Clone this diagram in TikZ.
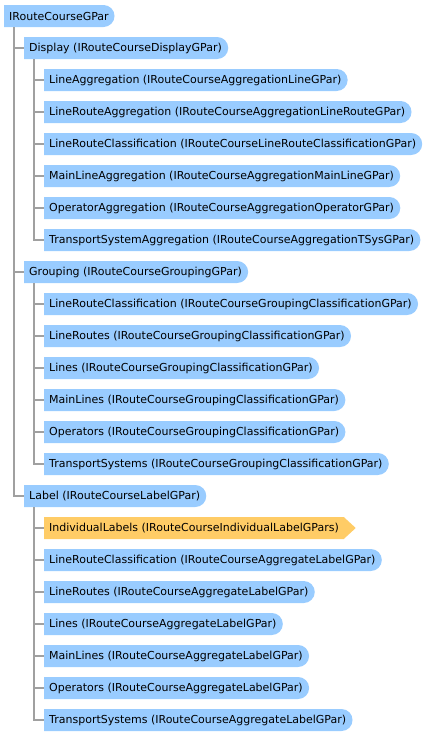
\documentclass[tikz,border=0pt]{standalone}
\usepackage{fontspec}
\setmainfont{DejaVu Sans}
\usetikzlibrary{shapes.misc,shapes.symbols}
\definecolor{gparblue}{HTML}{99CCFF}
\definecolor{gparorange}{HTML}{FFCC66}
\definecolor{treegray}{HTML}{A0A0A0}
\begin{document}
\begin{tikzpicture}[x=1pt,y=-1pt]
      \useasboundingbox (0,0) rectangle (434,736);
      \tikzset{
        gpar/.style={rounded rectangle,rounded rectangle west arc=none,fill=gparblue,
          minimum height=22pt,inner xsep=5pt,inner ysep=0pt,anchor=west,
          font=\fontsize{11}{13}\selectfont},
        gparlist/.style={gpar,signal,signal to=east,fill=gparorange,signal pointer angle=85},
        tree/.style={draw=treegray,line width=2pt}
      }
      % root
      \node[gpar] (root) at (4,16) {IRouteCourseGPar};
      % display
      \node[gpar] (disp) at (24,48) {Display (IRouteCourseDisplayGPar)};
      \node[gpar] (dLineAgg) at (44,80) {LineAggregation (IRouteCourseAggregationLineGPar)};
      \node[gpar] (dLineRouteAgg) at (44,112) {LineRouteAggregation (IRouteCourseAggregationLineRouteGPar)};
      \node[gpar] (dLineRouteCls) at (44,144) {LineRouteClassification (IRouteCourseLineRouteClassificationGPar)};
      \node[gpar] (dMainLineAgg) at (44,176) {MainLineAggregation (IRouteCourseAggregationMainLineGPar)};
      \node[gpar] (dOperatorAgg) at (44,208) {OperatorAggregation (IRouteCourseAggregationOperatorGPar)};
      \node[gpar] (dTSysAgg) at (44,240) {TransportSystemAggregation (IRouteCourseAggregationTSysGPar)};
      % grouping
      \node[gpar] (grp) at (24,272) {Grouping (IRouteCourseGroupingGPar)};
      \node[gpar] (gLineRouteCls) at (44,304) {LineRouteClassification (IRouteCourseGroupingClassificationGPar)};
      \node[gpar] (gLineRoutes) at (44,336) {LineRoutes (IRouteCourseGroupingClassificationGPar)};
      \node[gpar] (gLines) at (44,368) {Lines (IRouteCourseGroupingClassificationGPar)};
      \node[gpar] (gMainLines) at (44,400) {MainLines (IRouteCourseGroupingClassificationGPar)};
      \node[gpar] (gOperators) at (44,432) {Operators (IRouteCourseGroupingClassificationGPar)};
      \node[gpar] (gTSys) at (44,464) {TransportSystems (IRouteCourseGroupingClassificationGPar)};
      % label
      \node[gpar] (lbl) at (24,496) {Label (IRouteCourseLabelGPar)};
      \node[gparlist] (lIndividual) at (44,528) {IndividualLabels (IRouteCourseIndividualLabelGPars)};
      \node[gpar] (lLineRouteCls) at (44,560) {LineRouteClassification (IRouteCourseAggregateLabelGPar)};
      \node[gpar] (lLineRoutes) at (44,592) {LineRoutes (IRouteCourseAggregateLabelGPar)};
      \node[gpar] (lLines) at (44,624) {Lines (IRouteCourseAggregateLabelGPar)};
      \node[gpar] (lMainLines) at (44,656) {MainLines (IRouteCourseAggregateLabelGPar)};
      \node[gpar] (lOperators) at (44,688) {Operators (IRouteCourseAggregateLabelGPar)};
      \node[gpar] (lTSys) at (44,720) {TransportSystems (IRouteCourseAggregateLabelGPar)};
      % tree lines
      \foreach \c in {disp,grp,lbl}
        \draw[tree] ([xshift=10pt]root.south west) |- (\c.west);
      \foreach \c in {dLineAgg,dLineRouteAgg,dLineRouteCls,dMainLineAgg,dOperatorAgg,dTSysAgg}
        \draw[tree] ([xshift=10pt]disp.south west) |- (\c.west);
      \foreach \c in {gLineRouteCls,gLineRoutes,gLines,gMainLines,gOperators,gTSys}
        \draw[tree] ([xshift=10pt]grp.south west) |- (\c.west);
      \foreach \c in {lIndividual,lLineRouteCls,lLineRoutes,lLines,lMainLines,lOperators,lTSys}
        \draw[tree] ([xshift=10pt]lbl.south west) |- (\c.west);
\end{tikzpicture}
\end{document}
